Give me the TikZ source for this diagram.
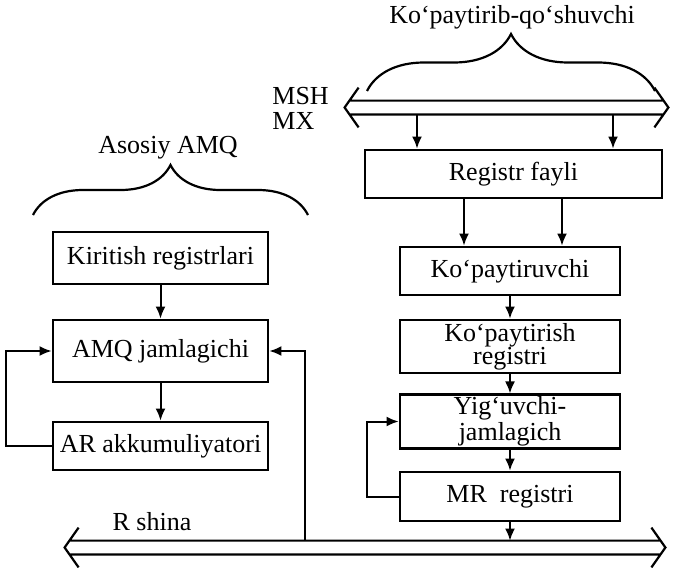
\documentclass[tikz,border=0pt]{standalone}
\usepackage{fontspec}
\setmainfont{Liberation Serif}
\usepackage{tikz}
\usetikzlibrary{positioning}
\usetikzlibrary{arrows.meta}
\usetikzlibrary{decorations.pathreplacing}
\tikzset{edge/.style = {-{Latex[length=6pt,width=5pt]}, line width=1pt}}

% a wide bus: two lines with open heads at both ends
\newcommand{\drawbus}[1]{%
  \draw[line width=1.1pt]
    ([xshift=2.3pt]#1.north west) -- ([xshift=-2.3pt]#1.north east)
    ([xshift=2.3pt]#1.south west) -- ([xshift=-2.3pt]#1.south east)
    ([shift={(7pt,6.5pt)}]#1.north west) -- (#1.west) -- ([shift={(7pt,-6.5pt)}]#1.south west)
    ([shift={(-7pt,6.5pt)}]#1.north east) -- (#1.east) -- ([shift={(-7pt,-6.5pt)}]#1.south east);}

\begin{document}
\begin{tikzpicture}[x=0.5pt,y=-0.5pt,
    reg node/.style={rectangle,draw,line width=1.4pt,minimum width=110pt,inner ysep=1pt,align=center,font=\fontsize{13}{11.5}\selectfont},
    bus node/.style={inner sep=0pt,minimum height=6.5pt},
    lbl/.style={font=\fontsize{13}{12.5}\selectfont},
    curly/.style={decorate,decoration={brace,amplitude=#1},line width=1.1pt}]
\useasboundingbox (0,0) rectangle (673,567);

\node[reg node, minimum width=107.5pt, minimum height=26pt] (kir) at (160.5,258) {Kiritish registrlari};
\node[reg node, minimum width=107.5pt, minimum height=31pt] (amq) at (160.5,351) {AMQ jamlagichi};
\node[reg node, minimum width=107.5pt, minimum height=24pt] (ar) at (160.5,446) {AR akkumuliyatori};

\node[reg node, minimum width=148.5pt, minimum height=24pt] (regf) at (513.5,174) {Registr fayli};
\node[reg node, minimum height=24pt] (kop) at (510,271) {Ko‘paytiruvchi};
\node[reg node, minimum height=26.5pt] (kreg) at (510,346.5) {Ko‘paytirish\\registri};
\node[reg node, minimum height=25.5pt] (yig) at (510,421.5) {Yig‘uvchi-\\jamlagich};
\node[reg node, minimum height=24.5pt] (mr) at (510,496.5) {MR\ \ registri};

\node[bus node, minimum width=161.5pt] (mx) at (506.5,107.5) {};
\node[bus node, minimum width=300pt] (rbus) at (365,547.5) {};
\drawbus{mx}
\drawbus{rbus}

\node[lbl] (ttl) at (512,17) {Ko‘paytirib-qo‘shuvchi};
\node[lbl] (asos) at (168,148) {Asosiy AMQ};
\node[lbl, align=left, anchor=west, inner sep=0pt] (msh) at (272,108) {MSH\\MX};
\node[lbl] (rsh) at (152,522) {R shina};

\draw[curly=25pt] (33,215) -- (308,215);
\draw[curly=28.5pt] (367,91) -- (655,91);

\coordinate (m1) at (417,114);
\coordinate (m2) at (613,114);
\coordinate (f1) at (464,0);
\coordinate (f2) at (562,0);
\coordinate (tap) at (305,541);

\draw[edge] (m1) -- (m1 |- regf.north);
\draw[edge] (m2) -- (m2 |- regf.north);
\draw[edge] (regf.south -| f1) -- (kop.north -| f1);
\draw[edge] (regf.south -| f2) -- (kop.north -| f2);
\draw[edge] (kop) -- (kreg);
\draw[edge] (kreg) -- (yig);
\draw[edge] (yig) -- (mr);
\draw[edge] (mr) -- (mr.south |- rbus.north);
\draw[edge] (mr.west) -- ++(-32,0) |- (yig.west);

\draw[edge] (kir) -- (amq);
\draw[edge] (amq) -- (ar);
\draw[edge] (ar.west) -- ++(-46,0) |- (amq.west);
\draw[edge] (tap) |- (amq.east);
\end{tikzpicture}
\end{document}
